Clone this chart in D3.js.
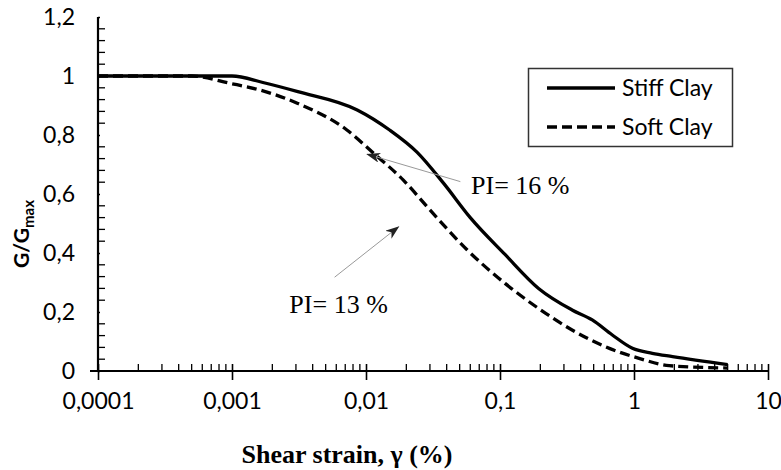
<!DOCTYPE html>
<html>
<head>
<meta charset="utf-8">
<script src="https://cdn.jsdelivr.net/npm/d3@7"></script>
<style>
  body { margin: 0; background: #fff; }
  text { fill: #000; }
</style>
</head>
<body>
<div id="chart"></div>
<script>
// G/Gmax degradation curves

var strainStiff = [0.0001, 0.0005, 0.001, 0.0017, 0.0031, 0.0086, 0.015, 0.024, 0.038, 0.06, 0.109, 0.194, 0.345, 0.488, 0.689, 0.973, 1.37, 1.94, 5];
var ratioStiff  = [1.0, 1.0, 1.0, 0.978, 0.947, 0.885, 0.817, 0.742, 0.636, 0.52, 0.395, 0.28, 0.207, 0.173, 0.122, 0.077, 0.06, 0.049, 0.022];

var strainSoft = [0.0001, 0.0005, 0.00097, 0.0016, 0.0031, 0.0072, 0.0114, 0.019, 0.03, 0.057, 0.109, 0.194, 0.345, 0.614, 1.09, 1.83, 5];
var ratioSoft  = [1.0, 1.0, 0.975, 0.953, 0.907, 0.817, 0.738, 0.647, 0.546, 0.41, 0.297, 0.212, 0.139, 0.082, 0.043, 0.018, 0.01];

var seriesNames = ["Stiff Clay", "Soft Clay"];
var xTickValues = [0.0001, 0.001, 0.01, 0.1, 1, 10];
var xTickLabels = ["0,0001", "0,001", "0,01", "0,1", "1", "10"];
var yTickValues = [0, 0.2, 0.4, 0.6, 0.8, 1, 1.2];
var yTickLabels = ["0", "0,2", "0,4", "0,6", "0,8", "1", "1,2"];

// annotations: text anchor point and arrow tail/tip, in data units
var notes = [
  { label: "PI= 16 %", at: [0.0608, 0.60], from: [0.0506, 0.642], to: [0.0102, 0.735] },
  { label: "PI= 13 %", at: [0.00268, 0.197], from: [0.00583, 0.318], to: [0.0175, 0.489] }
];

var width = 781, height = 470;
var mLeft = 98, mRight = 768, mTop = 17, mBottom = 371;

var svg = d3.select("#chart").append("svg")
    .attr("width", width)
    .attr("height", height);

var x = d3.scaleLog().domain([0.0001, 10]).range([mLeft, mRight]);
var y = d3.scaleLinear().domain([0, 1.2]).range([mBottom, mTop]);

// minor ticks
var xMinor = [];
for (var e = -4; e < 1; e++) {
  for (var k = 2; k <= 9; k++) xMinor.push(k * Math.pow(10, e));
}
var yMinor = d3.range(0, 1.2001, 0.04).filter(function (v) { return Math.abs(v * 5 - Math.round(v * 5)) > 1e-6; });

svg.append("g").selectAll("line")
    .data(xMinor).enter().append("line")
    .attr("x1", function (d) { return x(d); }).attr("x2", function (d) { return x(d); })
    .attr("y1", mBottom).attr("y2", mBottom - 7)
    .attr("stroke", "#000").attr("stroke-width", 1.3);

svg.append("g").selectAll("line")
    .data(yMinor).enter().append("line")
    .attr("x1", mLeft).attr("x2", mLeft + 7)
    .attr("y1", function (d) { return y(d); }).attr("y2", function (d) { return y(d); })
    .attr("stroke", "#000").attr("stroke-width", 1.3);

// axes with major ticks
var xAxis = d3.axisBottom(x).tickValues(xTickValues)
    .tickSize(9).tickPadding(13)
    .tickFormat(function (d, i) { return xTickLabels[i]; });
var gx = svg.append("g").attr("transform", "translate(0," + mBottom + ")").call(xAxis);
gx.select(".domain").attr("stroke-width", 2.2).attr("d", "M" + (mLeft - 8) + ",0H" + mRight);
gx.selectAll(".tick line").attr("stroke-width", 1.6).attr("y1", -7);
gx.selectAll(".tick text").style("font-family", "Lato, sans-serif").style("font-size", "23px");

var yAxis = d3.axisLeft(y).tickValues(yTickValues)
    .tickSize(8).tickPadding(15)
    .tickFormat(function (d, i) { return yTickLabels[i]; });
var gy = svg.append("g").attr("transform", "translate(" + mLeft + ",0)").call(yAxis);
gy.select(".domain").attr("stroke-width", 2.2).attr("d", "M0," + mTop + "V" + mBottom);
gy.selectAll(".tick line").attr("stroke-width", 1.6).attr("x2", 2);
gy.selectAll(".tick text").style("font-family", "Lato, sans-serif").style("font-size", "23px");

// curves
var line = d3.line()
    .x(function (d) { return x(d[0]); })
    .y(function (d) { return y(d[1]); })
    .curve(d3.curveMonotoneX);

svg.append("path")
    .datum(d3.zip(strainSoft, ratioSoft))
    .attr("d", line)
    .attr("fill", "none").attr("stroke", "#000")
    .attr("stroke-width", 3.3).attr("stroke-dasharray", "10,5");

svg.append("path")
    .datum(d3.zip(strainStiff, ratioStiff))
    .attr("d", line)
    .attr("fill", "none").attr("stroke", "#000")
    .attr("stroke-width", 3.3);

// arrow marker
svg.append("defs").append("marker")
    .attr("id", "head")
    .attr("viewBox", "0 0 14 10")
    .attr("refX", 13).attr("refY", 5)
    .attr("markerWidth", 14).attr("markerHeight", 10)
    .attr("markerUnits", "userSpaceOnUse")
    .attr("orient", "auto")
    .append("path")
    .attr("d", "M0,0L14,5L0,10L4,5Z")
    .attr("fill", "#222");

notes.forEach(function (n) {
  svg.append("line")
      .attr("x1", x(n.from[0])).attr("y1", y(n.from[1]))
      .attr("x2", x(n.to[0])).attr("y2", y(n.to[1]))
      .attr("stroke", "#999").attr("stroke-width", 1)
      .attr("marker-end", "url(#head)");
  svg.append("text")
      .attr("x", x(n.at[0])).attr("y", y(n.at[1]))
      .style("font-family", "'Liberation Serif', 'Times New Roman', serif")
      .style("font-size", "26px")
      .text(n.label);
});

// axis titles
svg.append("text")
    .attr("x", 347).attr("y", 463)
    .attr("text-anchor", "middle")
    .style("font-family", "'Liberation Serif', 'Times New Roman', serif")
    .style("font-size", "26px").style("font-weight", "bold")
    .text("Shear strain, \u03b3 (%)");

var yt = svg.append("text")
    .attr("transform", "translate(29,234) rotate(-90)")
    .attr("text-anchor", "middle")
    .style("font-family", "Lato, sans-serif")
    .style("font-size", "21px").style("font-weight", "bold");
yt.append("tspan").text("G/G");
yt.append("tspan").attr("dy", 5).style("font-size", "15px").text("max");

// legend
var lg = svg.append("g");
lg.append("rect")
    .attr("x", 528.5).attr("y", 68.5).attr("width", 204).attr("height", 78)
    .attr("fill", "#fff").attr("stroke", "#333").attr("stroke-width", 1.5);
seriesNames.forEach(function (name, i) {
  var ly = 88 + i * 39;
  lg.append("line")
      .attr("x1", 547).attr("x2", 615).attr("y1", ly).attr("y2", ly)
      .attr("stroke", "#000").attr("stroke-width", 3.3)
      .attr("stroke-dasharray", i === 1 ? "10,5" : null);
  lg.append("text")
      .attr("x", 622).attr("y", ly).attr("dy", "0.35em")
      .style("font-family", "Lato, sans-serif").style("font-size", "23px")
      .text(name);
});
</script>
</body>
</html>
